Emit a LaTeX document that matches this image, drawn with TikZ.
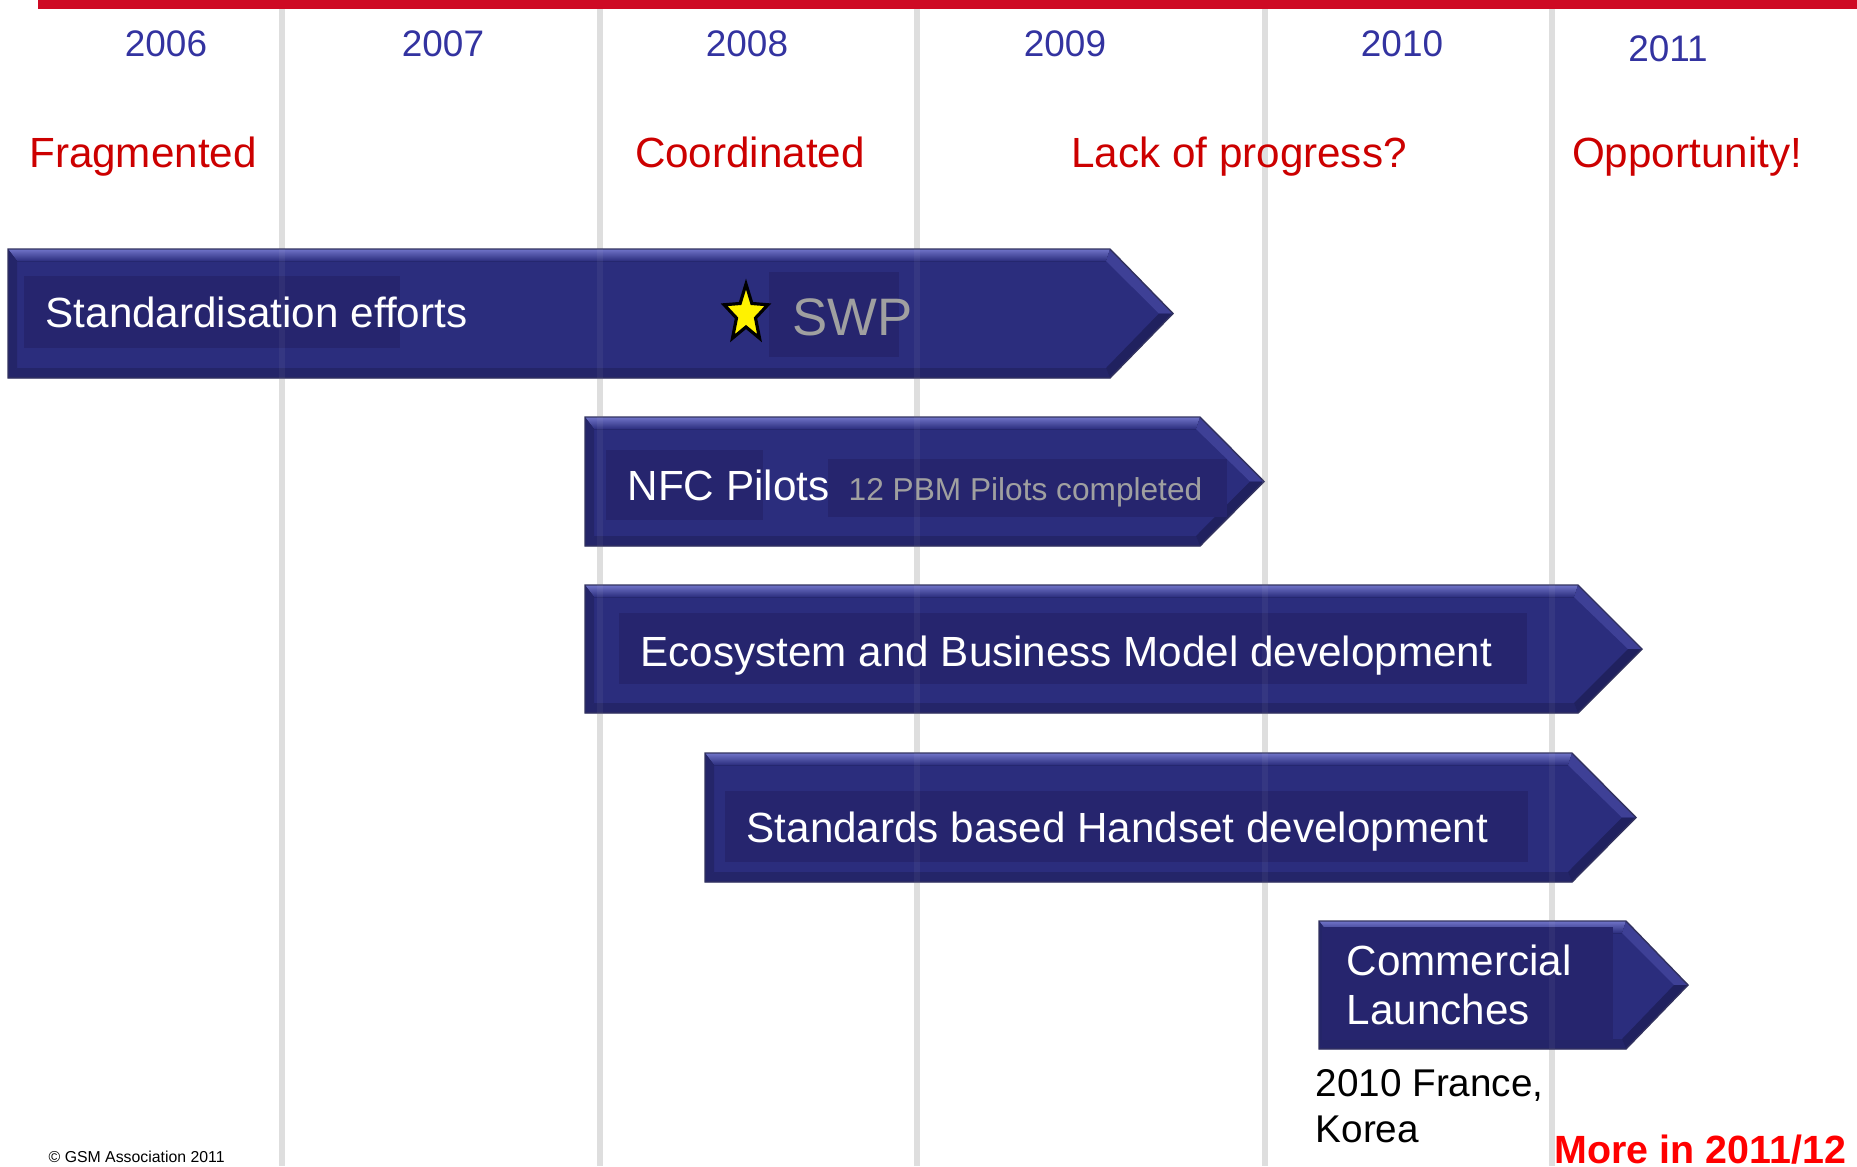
\documentclass[tikz,border=0pt]{standalone}
\usepackage{fontspec}
\setmainfont{Liberation Sans}
\usetikzlibrary{shapes.geometric}

\definecolor{topred}{RGB}{206,10,36}
\definecolor{yearblue}{RGB}{51,51,160}
\definecolor{phasered}{RGB}{204,0,0}
\definecolor{arrowblue}{RGB}{43,45,125}
\definecolor{innerblue}{RGB}{38,37,110}
\definecolor{bevellight}{RGB}{112,116,200}
\definecolor{arrowdark}{RGB}{36,37,105}
\definecolor{tiplight}{RGB}{62,64,150}
\definecolor{tipdark}{RGB}{32,33,95}
\definecolor{arrowedge}{RGB}{50,50,95}
\definecolor{gridgray}{RGB}{222,222,222}
\definecolor{swpgray}{RGB}{160,160,160}

% bevelled bar arrow: left, top, bottom, tip start, tip
\newcommand{\phasearrow}[5]{%
  \fill[arrowblue] (#1,#2) -- (#4,#2) -- (#5,{(#2+#3)/2}) -- (#4,#3) -- (#1,#3) -- cycle;
  \fill[top color=bevellight, bottom color=arrowblue] (#1,#2) -- (#4,#2) -- ({#4-4},{#2+12}) -- ({#1+9},{#2+12}) -- cycle;
  \fill[arrowdark] (#1,#2) -- ({#1+9},{#2+12}) -- ({#1+9},{#3-10}) -- (#1,#3) -- cycle;
  \fill[arrowdark] (#1,#3) -- ({#1+9},{#3-10}) -- ({#4-4},{#3-10}) -- (#4,#3) -- cycle;
  \fill[tiplight] (#4,#2) -- (#5,{(#2+#3)/2}) -- ({#5-14},{(#2+#3)/2}) -- ({#4-4},{#2+12}) -- cycle;
  \fill[tipdark] ({#5-14},{(#2+#3)/2}) -- (#5,{(#2+#3)/2}) -- (#4,#3) -- ({#4-4},{#3-10}) -- cycle;
  \draw[arrowedge, line width=0.4pt] (#1,#2) -- (#4,#2) -- (#5,{(#2+#3)/2}) -- (#4,#3) -- (#1,#3) -- cycle;
}

\begin{document}
\begin{tikzpicture}[x=0.01cm, y=-0.01cm,
    year/.style={text=yearblue, font=\fontsize{10.5}{12}\selectfont, anchor=base, inner sep=0pt},
    phase/.style={text=phasered, font=\fontsize{12}{14}\selectfont, anchor=base, inner sep=0pt},
    barlabel/.style={text=white, font=\fontsize{12}{14}\selectfont, anchor=base west, inner sep=0pt},
    shadebox/.style={fill=innerblue},
    gridline/.style={draw=gridgray, line width=0.06cm}]
    \useasboundingbox (0,0) rectangle (1857,1166);

    % Year grid
    \foreach \gx in {282,600,917,1265,1552}
        \draw[gridline] (\gx,9) -- (\gx,1166);

    % Red top rule
    \fill[topred] (38,0) rectangle (1857,9);

    % Years
    \node[year] (y2006) at (166,56) {2006};
    \node[year] (y2007) at (443,56) {2007};
    \node[year] (y2008) at (747,56) {2008};
    \node[year] (y2009) at (1065,56) {2009};
    \node[year] (y2010) at (1402,56) {2010};
    \node[year] (y2011) at (1668,61) {2011};

    % Phases
    \node[phase] (fragmented) at (143,167) {Fragmented};
    \node[phase] (coordinated) at (750,167) {Coordinated};
    \node[phase] (noprogress) at (1239,167) {Lack of progress?};
    \node[phase] (opportunity) at (1687,167) {Opportunity!};

    % Bar arrows
    \phasearrow{8}{249}{378}{1110}{1173}
    \phasearrow{585}{417}{546}{1200}{1264}
    \phasearrow{585}{585}{713}{1578}{1642}
    \phasearrow{705}{753}{882}{1572}{1636}
    \phasearrow{1319}{921}{1049}{1626}{1688}

    % Text frames
    \fill[shadebox] (24,276) rectangle (400,348);
    \fill[shadebox] (769,272) rectangle (899,357);
    \fill[shadebox] (606,450) rectangle (763,520);
    \fill[shadebox] (828,459) rectangle (1227,517);
    \fill[shadebox] (619,613) rectangle (1527,684);
    \fill[shadebox] (725,791) rectangle (1528,862);
    \fill[shadebox] (1322,927) rectangle (1613,1040);

    % Grid showing through the bars
    \foreach \gx in {282,600,917,1265,1552}
        \draw[gridline, draw opacity=0.06] (\gx,249) -- (\gx,1049);

    % Star
    \node[star, star points=5, star point ratio=2.3, inner sep=0pt, minimum size=0.46cm,
          fill=yellow, draw=black, line width=0.9pt, yscale=1.3, transform shape] (swpstar) at (746,314) {};

    % Bar labels
    \node[barlabel] (stdlabel) at (45,327) {Standardisation efforts};
    \node[barlabel, text=swpgray, font=\fontsize{15}{17}\selectfont] (swplabel) at (792,335) {SWP};
    \node[barlabel] (nfclabel) at (627,500) {NFC Pilots};
    \node[barlabel, text=swpgray, font=\fontsize{9}{11}\selectfont] (pbmlabel) at (848,500) {12 PBM Pilots completed};
    \node[barlabel] (ecolabel) at (640,666) {Ecosystem and Business Model development};
    \node[barlabel] (hsetlabel) at (746,842) {Standards based Handset development};
    \node[barlabel, align=left, anchor=north west, font=\fontsize{12}{13.9}\selectfont] (launchlabel) at (1346,944) {Commercial\\Launches};

    % Notes
    \node[anchor=north west, inner sep=0pt, align=left, font=\fontsize{11}{13.1}\selectfont] (marketlabel) at (1315,1069) {2010 France,\\Korea};
    \node[anchor=base west, inner sep=0pt, text=red, font=\bfseries\fontsize{11.2}{13}\selectfont] (morelabel) at (1554,1163) {More in 2011/12};

    % Footer
    \node[anchor=base west, inner sep=0pt, font=\fontsize{4.5}{5}\selectfont] (copyright) at (48,1162) {© GSM Association 2011};
\end{tikzpicture}
\end{document}
